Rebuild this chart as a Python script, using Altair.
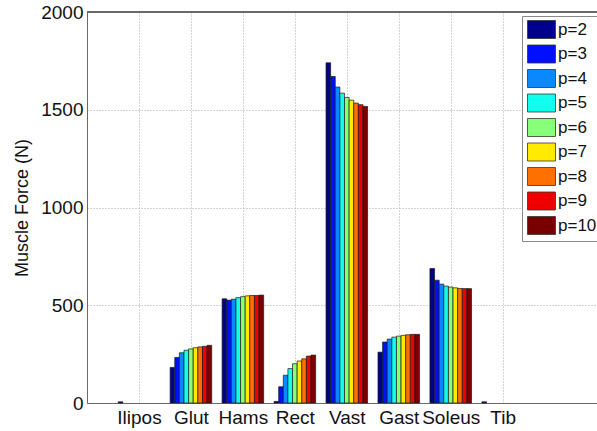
import altair as alt
import pandas as pd

# Muscle groups along the x axis
muscles = ["Ilipos", "Glut", "Hams", "Rect", "Vast", "Gast", "Soleus", "Tib"]

# Series labels
series = ["p=2", "p=3", "p=4", "p=5", "p=6", "p=7", "p=8", "p=9", "p=10"]

# Muscle force (N) per series, one value per muscle
force_p2 = [6, 182, 533, 8, 1740, 260, 688, 6]
force_p3 = [0, 233, 526, 83, 1670, 312, 628, 0]
force_p4 = [0, 257, 531, 142, 1616, 327, 608, 0]
force_p5 = [0, 270, 539, 176, 1585, 337, 598, 0]
force_p6 = [0, 277, 544, 201, 1563, 342, 593, 0]
force_p7 = [0, 283, 548, 215, 1549, 346, 589, 0]
force_p8 = [0, 287, 550, 226, 1534, 349, 586, 0]
force_p9 = [0, 290, 550, 240, 1526, 351, 585, 0]
force_p10 = [0, 295, 552, 245, 1517, 351, 585, 0]

all_forces = [force_p2, force_p3, force_p4, force_p5, force_p6,
              force_p7, force_p8, force_p9, force_p10]

# jet-style palette
colors = ["#00008f", "#0010ff", "#0a88ff", "#10ffef", "#88ff78",
          "#ffea00", "#ff7000", "#ee0000", "#780000"]

y_ticks = [0, 500, 1000, 1500, 2000]

rows = []
for si, (name, vals) in enumerate(zip(series, all_forces)):
    for ci, (m, v) in enumerate(zip(muscles, vals)):
        rows.append({"muscle": m, "ci": ci + 1, "series": name, "si": si, "force": v})
df = pd.DataFrame(rows)

X_MAX = 9.815
n = len(series)
label_expr = "[" + ",".join(f"'{m}'" for m in muscles) + "][datum.value - 1]"

x_scale = alt.Scale(domain=[0, X_MAX], nice=False, zero=False)
y_scale = alt.Scale(domain=[0, 2000], nice=False)

bars = alt.Chart(df).transform_filter(
    "datum.force > 0"
).transform_calculate(
    x0=f"datum.ci + (datum.si - {n / 2}) * 0.8 / {n}",
    x1=f"datum.ci + (datum.si - {n / 2} + 1) * 0.8 / {n}",
    base="0",
).mark_bar(stroke="#1a1a1a", strokeWidth=0.7).encode(
    x=alt.X("x0:Q", scale=x_scale, title=None,
            axis=alt.Axis(values=list(range(1, len(muscles) + 1)),
                          labelExpr=label_expr, ticks=False,
                          labelPadding=5, labelFontSize=19,
                          grid=True, gridDash=[1, 2], gridColor="#a8a8a8",
                          domainColor="#6a6a6a", labelColor="#111",
                          labelFont="Liberation Sans")),
    x2="x1:Q",
    y=alt.Y("force:Q", scale=y_scale,
            axis=alt.Axis(values=y_ticks, format="d", ticks=False, labelPadding=4,
                          labelFontSize=19, labelFont="Liberation Sans",
                          labelColor="#111", grid=True, gridDash=[1, 2],
                          gridColor="#a8a8a8", domainColor="#6a6a6a",
                          title="Muscle Force (N)", titleFontSize=18,
                          titleFontWeight="normal", titleFont="Liberation Sans",
                          titleColor="#111", titleAngle=-90, titleX=-65,
                          titleY=195.5, titleAlign="center",
                          titleBaseline="middle")),
    y2="base:Q",
    color=alt.Color("series:N", scale=alt.Scale(domain=series, range=colors),
                    sort=series,
                    legend=alt.Legend(
                        title=None, orient="none", legendX=435, legendY=4,
                        symbolType="M-1.5556,-1H1.5556V1H-1.5556Z",
                        symbolSize=324, symbolStrokeColor="#333",
                        symbolStrokeWidth=0.8, symbolOpacity=1,
                        labelFontSize=17, labelFont="Liberation Sans",
                        labelColor="#111", labelOffset=7, rowPadding=1.5,
                        padding=4, symbolOffset=6,
                        strokeColor="#888", fillColor="white")),
)

# top edge of the axes box
top_edge = alt.Chart(df).mark_rule(color="#6a6a6a", strokeWidth=1).encode(
    y=alt.datum(2000, scale=y_scale)
)

chart = alt.layer(bars, top_edge).properties(
    width=510, height=391,
    autosize=alt.AutoSizeParams(type="none"),
    padding={"left": 87, "top": 12, "right": 0, "bottom": 28},
).configure_view(stroke=None).configure(background="white")

chart.save("out.html", embed_options={"renderer": "svg", "actions": False})
